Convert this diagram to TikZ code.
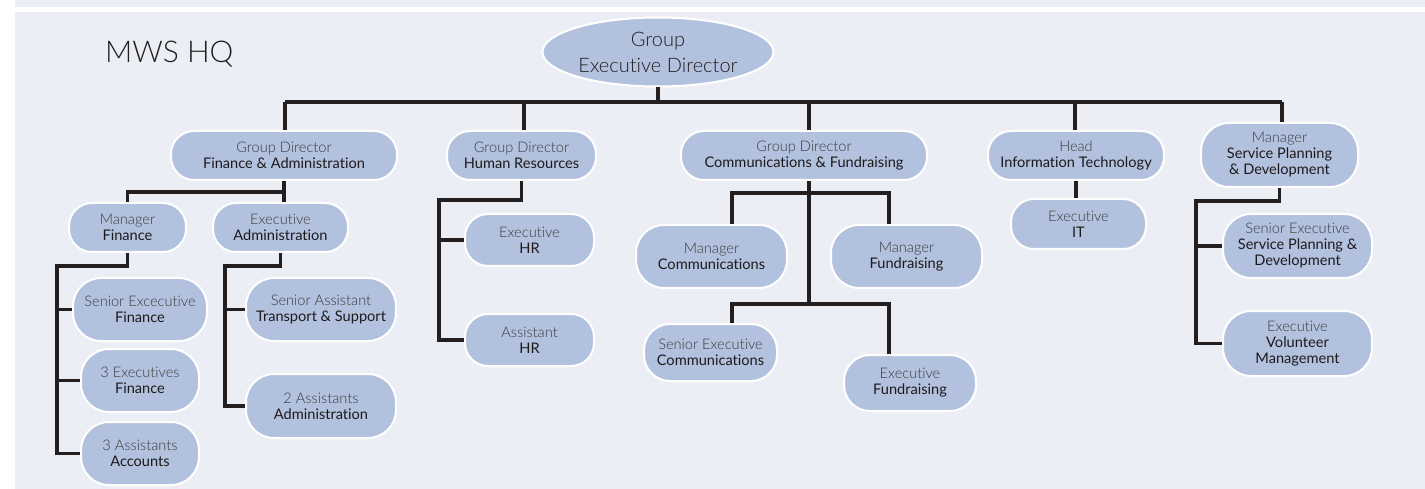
\documentclass[tikz,border=0pt]{standalone}
\usepackage{fontspec}
\setmainfont{Lato}[RawFeature=-liga]
\newfontfamily\lightf{Lato Light}[RawFeature=-liga]
\usetikzlibrary{shapes.geometric}
\definecolor{bg}{HTML}{EBEEF5}
\definecolor{boxc}{HTML}{B2C2DE}
\definecolor{lnc}{HTML}{231F20}
\definecolor{tlt}{HTML}{3A3A3C}
\definecolor{tdk}{HTML}{1E1A1B}
\newcommand{\tl}[1]{{\lightf\color{tlt}#1}}
\begin{document}
\begin{tikzpicture}[x=1pt,y=-1pt,
 box/.style={draw=white, line width=2pt, fill=boxc, align=center, inner sep=0pt,
   font=\fontsize{14.6}{16}\selectfont, text=tdk},
 rs/.style={rounded corners=23pt},
 rl/.style={rounded corners=28pt},
 conn/.style={draw=lnc, line width=3.4pt}]
\useasboundingbox (0,0) rectangle (1425,489);
\fill[white] (0,0) rectangle (1425,489);
\fill[bg] (15,0) rectangle (1425,7);
\fill[bg] (15,12) rectangle (1425,489);

\node[font=\lightf\fontsize{30}{36}\selectfont, text=lnc, anchor=base west, inner sep=0pt] (title) at (105,63) {MWS HQ};

\node[ellipse, draw=white, line width=2pt, fill=boxc, minimum width=231pt, minimum height=69pt,
  inner sep=0pt, align=center, font=\lightf\fontsize{20}{26}\selectfont, text=lnc] (root) at (658,52) {Group\\Executive Director};

% level 1
\node[box,rs,minimum width=226pt,minimum height=49pt] (gdf) at (284,155.5) {\tl{Group Director}\\Finance \& Administration};
\node[box,rs,minimum width=149pt,minimum height=49pt] (gdhr) at (521.5,155.5) {\tl{Group Director}\\Human Resources};
\node[box,rs,minimum width=246pt,minimum height=49pt] (gdc) at (804,155.5) {\tl{Group Director}\\Communications \& Fundraising};
\node[box,rs,minimum width=176pt,minimum height=49pt] (hit) at (1076,155.5) {\tl{Head}\\Information Technology};
\node[box,rl,minimum width=157pt,minimum height=64pt] (spd) at (1279.5,155) {\tl{Manager}\\Service Planning\\\& Development};

% finance
\node[box,rs,minimum width=117pt,minimum height=49pt] (mf) at (127.5,227.5) {\tl{Manager}\\Finance};
\node[box,rs,minimum width=135pt,minimum height=49pt] (ea) at (280.5,227.5) {\tl{Executive}\\Administration};
\node[box,rl,minimum width=134pt,minimum height=63pt] (sef) at (140,309.5) {\tl{Senior Excecutive}\\Finance};
\node[box,rl,minimum width=118pt,minimum height=63pt] (ef) at (140,380.5) {\tl{3 Executives}\\Finance};
\node[box,rl,minimum width=118pt,minimum height=63pt] (af) at (140,453.5) {\tl{3 Assistants}\\Accounts};
\node[box,rl,minimum width=150pt,minimum height=63pt] (sat) at (321,309.5) {\tl{Senior Assistant}\\Transport \& Support};
\node[box,rl,minimum width=150pt,minimum height=64pt] (aa) at (321,406) {\tl{2 Assistants}\\Administration};

% HR
\node[box,rs,minimum width=129pt,minimum height=52pt] (ehr) at (529.5,240) {\tl{Executive}\\HR};
\node[box,rs,minimum width=129pt,minimum height=52pt] (ahr) at (529.5,340) {\tl{Assistant}\\HR};

% comms
\node[box,rl,minimum width=151pt,minimum height=63pt] (mc) at (711.5,256.5) {\tl{Manager}\\Communications};
\node[box,rl,minimum width=151pt,minimum height=63pt] (mfu) at (906.5,256.5) {\tl{Manager}\\Fundraising};
\node[box,rl,rounded corners=26pt,minimum width=133pt,minimum height=57pt] (sec) at (710.5,352.5) {\tl{Senior Executive}\\Communications};
\node[box,rl,rounded corners=26pt,minimum width=132pt,minimum height=56pt] (efu) at (910,383) {\tl{Executive}\\Fundraising};

% IT
\node[box,rs,minimum width=135pt,minimum height=50pt] (eit) at (1078.5,224) {\tl{Executive}\\IT};

% SPD
\node[box,rl,minimum width=149pt,minimum height=64pt] (ses) at (1297.5,246) {\tl{Senior Executive}\\Service Planning \&\\Development};
\node[box,rl,minimum width=149pt,minimum height=65pt] (evm) at (1297.5,343.5) {\tl{Executive}\\Volunteer\\Management};

% connectors top bus
\coordinate (b1) at (285,102);
\coordinate (b2) at (524,102);
\coordinate (b3) at (809,102);
\coordinate (b4) at (1075,102);
\coordinate (b5) at (1282,102);
\draw[conn] (b1) -- (b5);
\draw[conn] (root.south) -- (root.south |- b1);
\draw[conn] (b1) -- (b1 |- gdf.north);
\draw[conn] (b2) -- (b2 |- gdhr.north);
\draw[conn] (b3) -- (b3 |- gdc.north);
\draw[conn] (b4) -- (b4 |- hit.north);
\draw[conn] (b5) -- (b5 |- spd.north);

% finance
\coordinate (fb) at (284,192);
\draw[conn] (fb |- gdf.south) -- (fb |- ea.north);
\draw[conn] (fb) -| (mf.north);
\coordinate (fL) at (57,266);
\draw[conn] (mf.south) |- (fL) |- (af.west);
\draw[conn] (fL |- sef.west) -- (sef.west);
\draw[conn] (fL |- ef.west) -- (ef.west);
\coordinate (aL) at (225,266);
\draw[conn] (ea.south) |- (aL) |- (aa.west);
\draw[conn] (aL |- sat.west) -- (sat.west);

% HR
\coordinate (hL) at (439,200);
\draw[conn] (gdhr.south) |- (hL) |- (ahr.west);
\draw[conn] (hL |- ehr.west) -- (ehr.west);

% comms
\coordinate (cx1) at (732,193);
\coordinate (cx2) at (889,193);
\coordinate (cy1) at (732,304);
\coordinate (cy2) at (889,304);
\draw[conn] (b3 |- gdc.south) -- (b3 |- cy1);
\draw[conn] (cx1 |- mc.north) -- (cx1) -- (cx2) -- (cx2 |- mfu.north);
\draw[conn] (cy1 |- sec.north) -- (cy1) -- (cy2) -- (cy2 |- efu.north);

% IT
\draw[conn] (hit.south) -- (hit.south |- eit.north);

% SPD
\coordinate (sL) at (1196,201);
\draw[conn] (spd.south) |- (sL) |- (evm.west);
\draw[conn] (sL |- ses.west) -- (ses.west);
\end{tikzpicture}
\end{document}
